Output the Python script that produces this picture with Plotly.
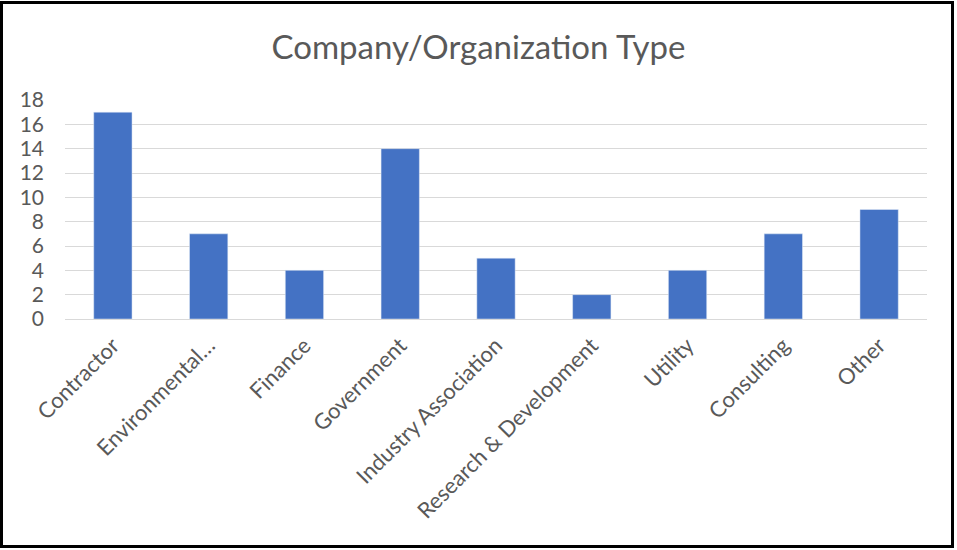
import plotly.graph_objects as go

categories = ["Contractor", "Environmental…", "Finance", "Government", "Industry Association",
              "Research & Development", "Utility", "Consulting", "Other"]
values = [17, 7, 4, 14, 5, 2, 4, 7, 9]
title_text = "Company/Organization Type"

W, H = 957, 550
L, R, T, B = 65, 30, 100, 231
pw = W - L - R
ph = H - T - B

def px_x(p):
    return (p - L) / pw

def px_y(p):
    return (H - B - p) / ph

fig = go.Figure(go.Bar(x=categories, y=values, marker_color="#4472C4", width=0.4))

fig.update_layout(
    width=W, height=H,
    margin=dict(l=L, r=R, t=T, b=B),
    paper_bgcolor="white", plot_bgcolor="white",
    font=dict(family="Lato, Open Sans, sans-serif", color="#595959"),
    title=dict(text=title_text, x=0.5, xanchor="center", y=1 - 47 / H, yanchor="middle",
               font=dict(size=33, color="#595959")),
    showlegend=False,
    bargap=0.6,
)
fig.update_yaxes(range=[0, 18], dtick=2, showgrid=True, gridcolor="#D9D9D9", gridwidth=1,
                 zeroline=True, zerolinecolor="#D9D9D9", zerolinewidth=1,
                 tickfont=dict(size=21, color="#595959"), ticklabelstandoff=20, showline=False)
fig.update_xaxes(tickangle=-45, tickfont=dict(size=22, color="#595959"), showline=True,
                 linecolor="#D9D9D9", linewidth=1, ticks="", ticklabelstandoff=4)

fig.add_shape(type="rect", xref="paper", yref="paper",
              x0=px_x(1.5), x1=px_x(952.5), y0=px_y(546.5), y1=px_y(2.5),
              line=dict(color="black", width=3), fillcolor="rgba(0,0,0,0)", layer="above")

fig.write_html("out.html")
